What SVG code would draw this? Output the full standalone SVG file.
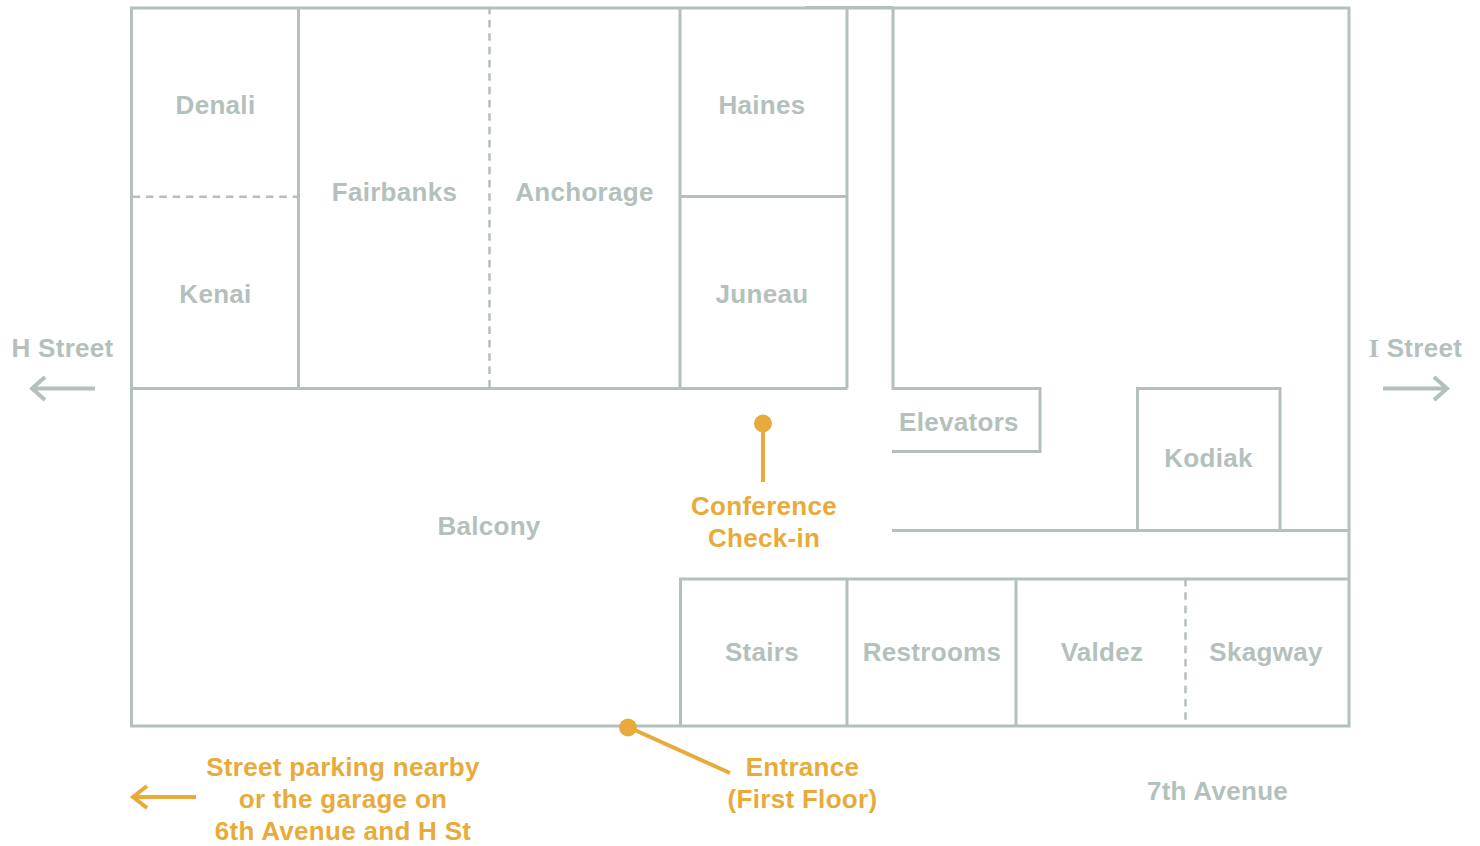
<svg xmlns="http://www.w3.org/2000/svg" width="1480" height="846" viewBox="0 0 1480 846">
<style>
.w{fill:none;stroke:#b4c0bc;stroke-width:3}
.d{fill:none;stroke:#b4c0bc;stroke-width:2.500;stroke-dasharray:7.500 5.830}
.a{fill:none;stroke:#b4c0bc;stroke-width:4}
.o{fill:none;stroke:#e8ab3a;stroke-width:4}
text{font-family:"Liberation Sans",Arial,sans-serif;font-weight:700;font-size:26px;text-anchor:middle;letter-spacing:.3px}
.g{fill:#b4c0bc}
.y{fill:#e8ab3a}
</style>
<rect width="1480" height="846" fill="#fff"/>
<g id="connectors">
<path class="w" d="M131.500 8H1349V726H131.500Z"/>
<path class="w" d="M131.500 388.500H847.500M298.500 8V388.500M680 8V388.500M680 196.500H847M847 8V388.500M893 8V388.500H1040V451.500H892M892 530.500H1349M1137.500 530.500V388.500H1280V530.500M680.500 726V579H1349M847 579V726M1016 579V726M805 7.500H893"/>
<path class="d" d="M132.700 196.700H298M489.500 6.700V388M1185.500 579V726"/>
<path class="a" d="M95 388.500H33M45 377L32 388.500L45 400M1383 388.500H1446M1434 377L1447 388.500L1434 400"/>
<path class="o" d="M763 423V482M628 727L730 773M196 797H134M147 786L133 797L147 808"/>
<circle cx="763" cy="423.500" r="9" fill="#e8ab3a"/>
<circle cx="628" cy="727.500" r="9" fill="#e8ab3a"/>
</g>
<g id="denali"><text class="g" x="215.500" y="114">Denali</text></g>
<g id="kenai"><text class="g" x="215.500" y="303">Kenai</text></g>
<g id="fairbanks"><text class="g" x="394.500" y="201">Fairbanks</text></g>
<g id="anchorage"><text class="g" x="584.500" y="201">Anchorage</text></g>
<g id="haines"><text class="g" x="762" y="114">Haines</text></g>
<g id="juneau"><text class="g" x="762" y="303">Juneau</text></g>
<g id="elevators"><text class="g" x="959" y="431">Elevators</text></g>
<g id="kodiak"><text class="g" x="1208.500" y="467">Kodiak</text></g>
<g id="balcony"><text class="g" x="489" y="535">Balcony</text></g>
<g id="stairs"><text class="g" x="762" y="661">Stairs</text></g>
<g id="restrooms"><text class="g" x="932" y="661">Restrooms</text></g>
<g id="valdez"><text class="g" x="1102" y="661">Valdez</text></g>
<g id="skagway"><text class="g" x="1266" y="661">Skagway</text></g>
<g id="h-street"><text class="g" x="62.500" y="357">H Street</text></g>
<g id="i-street"><text class="g" x="1415.500" y="357"><tspan font-family="Liberation Serif">I</tspan> Street</text></g>
<g id="seventh"><text class="g" x="1217.500" y="800">7th Avenue</text></g>
<g id="checkin"><text class="y" x="764" y="515">Conference</text><text class="y" x="764" y="547">Check-in</text></g>
<g id="entrance"><text class="y" x="802.500" y="776">Entrance</text><text class="y" x="802.500" y="808">(First Floor)</text></g>
<g id="parking"><text class="y" x="343" y="776">Street parking nearby</text><text class="y" x="343" y="808">or the garage on</text><text class="y" x="343" y="840">6th Avenue and H St</text></g>
</svg>
